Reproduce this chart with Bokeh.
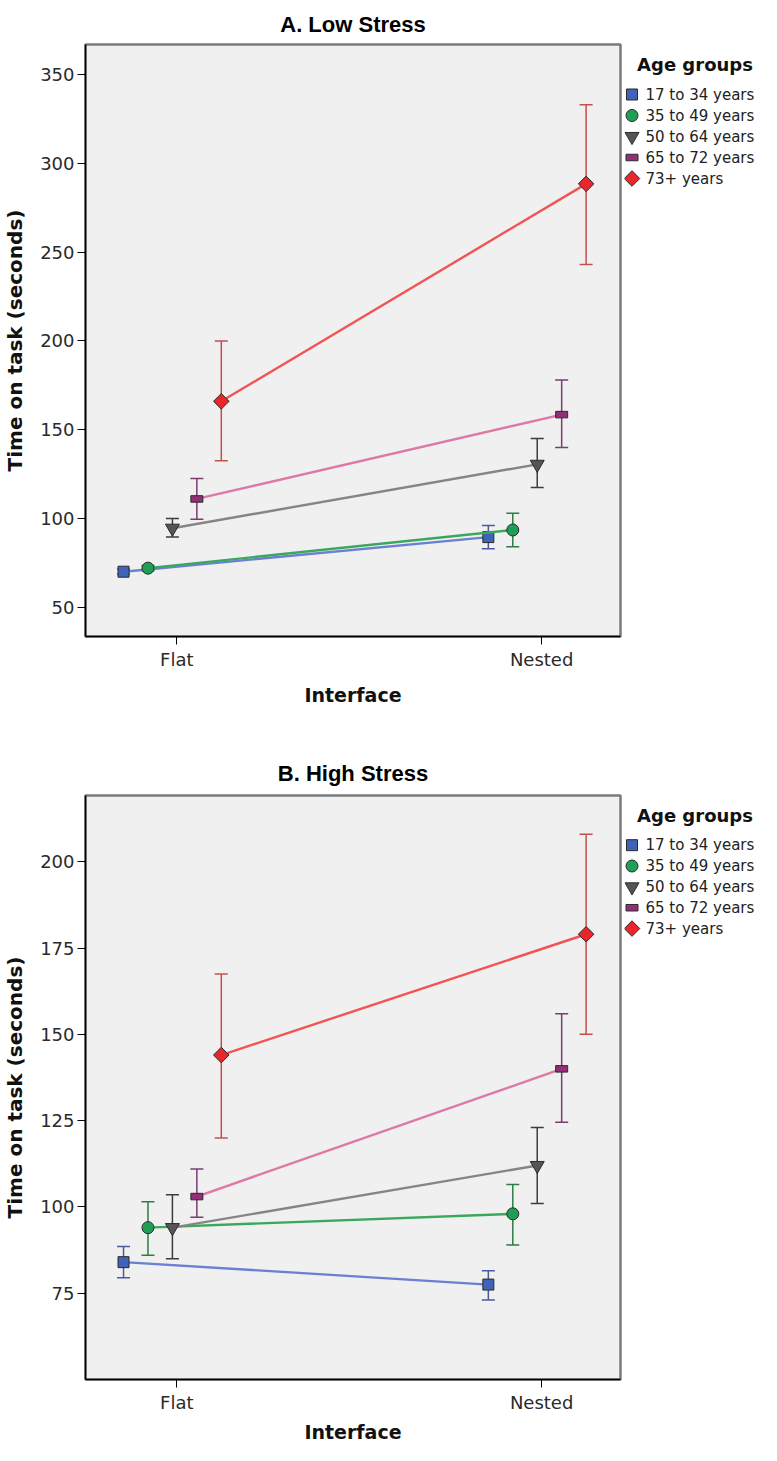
import math
from bokeh.plotting import figure
from bokeh.models import Range1d, FixedTicker, ColumnDataSource, Whisker, TeeHead
from bokeh.layouts import column, row
from bokeh.core.properties import value
from bokeh.embed import file_html
from bokeh.resources import INLINE

# ---------------- data ----------------
interfaces = ["Flat", "Nested"]
age_groups = ["17 to 34 years", "35 to 49 years", "50 to 64 years",
              "65 to 72 years", "73+ years"]

# A. Low Stress (mean time on task, error-bar lower / upper limits), per age group
low_flat_mean = [70.0, 72.0, 94.5, 111.0, 166.0]
low_flat_lo = [68.5, 70.5, 89.5, 99.5, 132.5]
low_flat_hi = [71.5, 73.5, 100.0, 122.5, 200.0]
low_nested_mean = [89.5, 93.5, 130.5, 158.5, 288.5]
low_nested_lo = [83.0, 84.0, 117.5, 140.0, 243.0]
low_nested_hi = [96.0, 103.0, 145.0, 178.0, 333.0]

# B. High Stress
high_flat_mean = [84.0, 94.0, 94.0, 103.0, 144.0]
high_flat_lo = [79.5, 86.0, 85.0, 97.0, 120.0]
high_flat_hi = [88.5, 101.5, 103.5, 111.0, 167.5]
high_nested_mean = [77.5, 98.0, 112.0, 140.0, 179.0]
high_nested_lo = [73.0, 89.0, 101.0, 124.5, 150.0]
high_nested_hi = [81.5, 106.5, 123.0, 156.0, 208.0]

low_ticks = [50, 100, 150, 200, 250, 300, 350]
high_ticks = [75, 100, 125, 150, 175, 200]

# ---------------- style ----------------
FILL = ["#3f63b8", "#1f9e55", "#555555", "#922f78", "#e8262b"]
LINE = ["#6b80d2", "#3aa85c", "#858585", "#de78a6", "#f25454"]
ERR = ["#4a5a9c", "#2d7d45", "#3c3c3c", "#7a3c72", "#c4504c"]
EDGE = "#2b2b2b"

MAIN_W = 624
LEG_W = 137
X_START, X_END = -0.2503, 1.2162
DODGE = 0.067
SHIFT = -0.18
FONT = "DejaVu Sans"
MARKERS = ["square", "circle", "inverted_triangle", "bar", "diamond"]
SIZES = [11, 12, 14, 12, 11]


def draw_marker(p, i, source=None, x="x", y="y"):
    kw = dict(fill_color=FILL[i], line_color=EDGE, line_width=1)
    if source is not None:
        kw["source"] = source
    if MARKERS[i] == "bar":
        return p.rect(x, y, width=12, height=6.5, width_units="screen",
                      height_units="screen", **kw)
    if MARKERS[i] == "diamond":
        return p.scatter(x, y, marker="square", angle=math.pi / 4,
                         size=SIZES[i], **kw)
    return p.scatter(x, y, marker=MARKERS[i], size=SIZES[i], **kw)


def make_chart(title, fm, flo, fhi, nm, nlo, nhi, y0, y1, ticks, height,
               top, bottom, xlabel_standoff, title_standoff):
    p = figure(width=MAIN_W, height=height, output_backend="svg",
               toolbar_location=None, title=title,
               x_range=Range1d(X_START, X_END), y_range=Range1d(y0, y1),
               min_border_left=84, min_border_right=4, min_border_top=top,
               min_border_bottom=bottom, background_fill_color="#f0f0f0",
               border_fill_color="white")
    p.title.align = "center"
    p.title.text_font = "Liberation Sans"
    p.title.text_font_size = "22px"
    p.title.text_font_style = "bold"
    p.title.text_color = "black"
    p.title.standoff = title_standoff
    p.grid.visible = False
    p.outline_line_color = "#7a7a7a"
    p.outline_line_width = 2.5

    xa = p.xaxis[0]
    xa.ticker = FixedTicker(ticks=list(range(len(interfaces))))
    xa.major_label_overrides = {i: n for i, n in enumerate(interfaces)}
    xa.axis_label = "Interface"
    xa.axis_label_standoff = xlabel_standoff
    xa.major_label_standoff = 4

    ya = p.yaxis[0]
    ya.ticker = FixedTicker(ticks=ticks)
    ya.axis_label = "Time on task (seconds)"
    ya.axis_label_standoff = 10
    ya.major_label_standoff = 3

    for ax in (xa, ya):
        ax.axis_line_color = "black"
        ax.axis_line_width = 1.5
        ax.major_tick_out = 8
        ax.major_tick_in = 0
        ax.major_tick_line_color = "black"
        ax.minor_tick_line_color = None
        ax.major_label_text_font = FONT
        ax.major_label_text_font_size = "18px"
        ax.major_label_text_color = "#2a2a2a"
        ax.axis_label_text_font = FONT
        ax.axis_label_text_font_style = "bold"
        ax.axis_label_text_color = "#111111"
    xa.axis_label_text_font_size = "19px"
    ya.axis_label_text_font_size = "20px"

    for i in range(len(age_groups)):
        xs = [j + (i - 2 + SHIFT) * DODGE for j in range(len(interfaces))]
        src = ColumnDataSource(dict(x=xs, y=[fm[i], nm[i]],
                                    lo=[flo[i], nlo[i]], hi=[fhi[i], nhi[i]]))
        w = Whisker(base="x", lower="lo", upper="hi", source=src,
                    dimension="height", level="underlay",
                    line_color=ERR[i], line_width=1.5,
                    upper_head=TeeHead(size=13, line_color=ERR[i], line_width=1.5),
                    lower_head=TeeHead(size=13, line_color=ERR[i], line_width=1.5))
        p.add_layout(w)
        p.line("x", "y", source=src, line_color=LINE[i], line_width=2.4)
        draw_marker(p, i, source=src)
    return p


def make_legend(height, top, bottom):
    # plots in a row share their top/bottom borders, so this frame matches the chart's frame;
    # data units here are pixels measured from the frame's top edge
    frame_h = height - top - bottom
    lg = figure(width=LEG_W, height=height, output_backend="svg",
                toolbar_location=None, x_range=Range1d(0, LEG_W),
                y_range=Range1d(frame_h, 0), x_axis_type=None, y_axis_type=None,
                min_border_left=0, min_border_right=0, min_border_top=top,
                min_border_bottom=bottom, outline_line_color=None,
                background_fill_color="white", border_fill_color="white")
    lg.text(x=[70.5], y=[20], text=["Age groups"],
            text_font=value(FONT), text_font_size="18px",
            text_font_style="bold", text_align="center", text_baseline="middle",
            text_color="#111111")
    ys = [50 + 21 * i for i in range(len(age_groups))]
    for i in range(len(age_groups)):
        draw_marker(lg, i, x=[7.5], y=[ys[i]])
    lg.text(x=[21] * len(age_groups), y=ys, text=age_groups,
            text_font=value(FONT), text_font_size="15px",
            text_align="left", text_baseline="middle", text_color="#222222")
    return lg


top = make_chart("A. Low Stress", low_flat_mean, low_flat_lo, low_flat_hi,
                 low_nested_mean, low_nested_lo, low_nested_hi,
                 33.5, 367.0, low_ticks, 712, 44, 76, 11, 16)
bot = make_chart("B. High Stress", high_flat_mean, high_flat_lo, high_flat_hi,
                 high_nested_mean, high_nested_lo, high_nested_hi,
                 50.0, 219.2, high_ticks, 733, 83, 62, 5, 19)

layout = column(row(top, make_legend(712, 44, 76)),
                row(bot, make_legend(733, 83, 62)))
open("out.html", "w").write(file_html(layout, INLINE))
